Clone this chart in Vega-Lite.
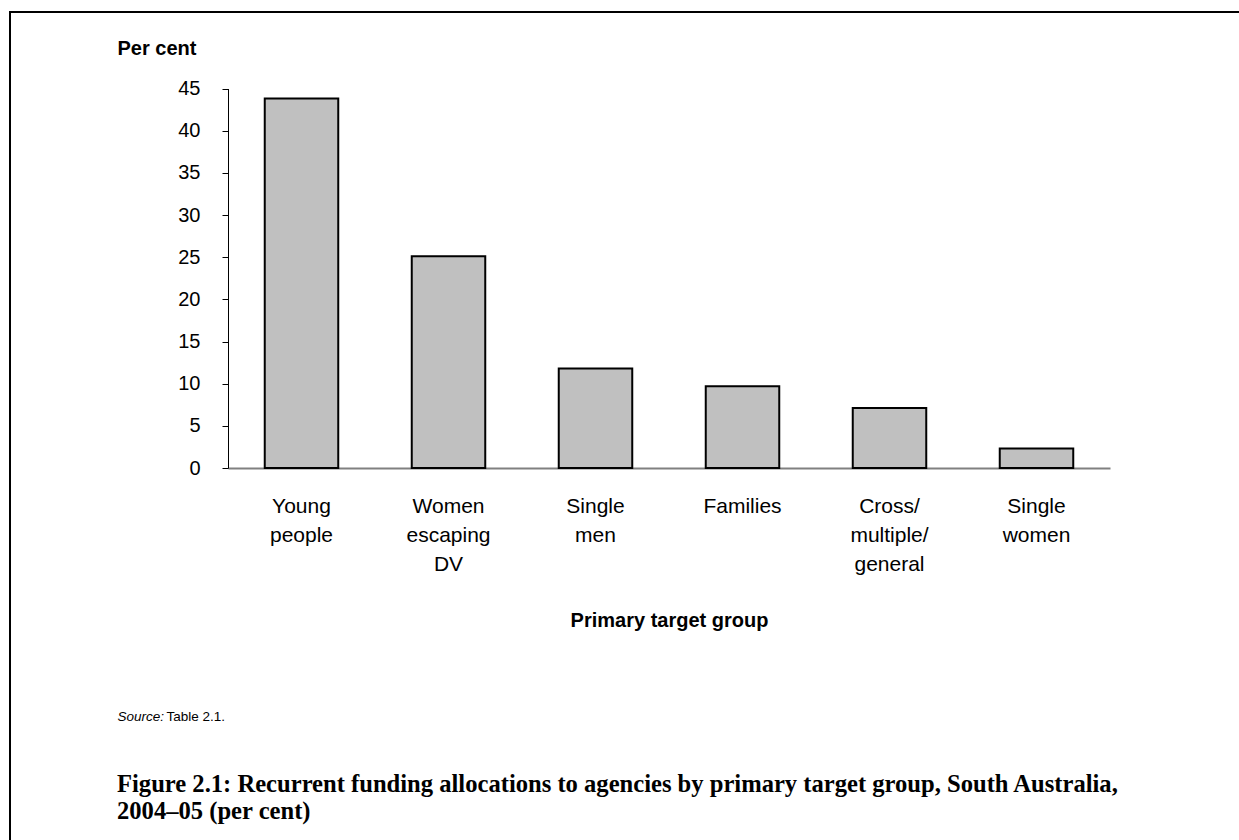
{
  "$schema": "https://vega.github.io/schema/vega-lite/v6.json",
  "width": 1232,
  "height": 831,
  "autosize": {"type": "none"},
  "padding": {"left": 10, "top": 12, "right": -3, "bottom": -3},
  "background": "white",
  "config": {
    "view": {"stroke": "black", "strokeWidth": 2},
    "font": "Liberation Sans"
  },
  "title": {
    "text": ["Figure 2.1: Recurrent funding allocations to agencies by primary target group, South Australia,", "2004–05 (per cent)"],
    "orient": "top",
    "anchor": "start",
    "frame": "group",
    "offset": 0,
    "baseline": "alphabetic",
    "dx": 107,
    "dy": 832,
    "font": "Liberation Serif",
    "fontSize": 24.6,
    "fontWeight": "bold",
    "lineHeight": 27,
    "color": "black"
  },
  "data": {
    "values": [
      {"group": "Young people", "value": 43.8},
      {"group": "Women escaping DV", "value": 25.1},
      {"group": "Single men", "value": 11.8},
      {"group": "Families", "value": 9.7},
      {"group": "Cross/ multiple/ general", "value": 7.1},
      {"group": "Single women", "value": 2.3}
    ]
  },
  "layer": [
    {
      "mark": {"type": "bar", "fill": "#c0c0c0", "stroke": "black", "strokeWidth": 2},
      "encoding": {
        "x": {
          "field": "group", "type": "nominal", "sort": null,
          "scale": {"range": [218, 1100], "paddingInner": 0.5, "paddingOuter": 0.25},
          "axis": {
            "orient": "bottom",
            "offset": -375,
            "domainColor": "#808080",
            "domainWidth": 2,
            "ticks": false,
            "tickSize": 0,
            "labelPadding": 27,
            "labelAngle": 0,
            "labelFontSize": 21,
            "labelLineHeight": 29,
            "labelColor": "black",
            "labelOverlap": false,
            "labelExpr": "split(datum.label, ' ')",
            "title": "Primary target group",
            "titleFontSize": 20,
            "titleFontWeight": "bold",
            "titleColor": "black",
            "titleBaseline": "alphabetic",
            "titleY": 158
          }
        },
        "y": {
          "field": "value", "type": "quantitative",
          "scale": {"domain": [0, 45], "range": [456, 76.5], "nice": false, "zero": true},
          "axis": {
            "orient": "left",
            "offset": -218,
            "grid": false,
            "values": [0, 5, 10, 15, 20, 25, 30, 35, 40, 45],
            "domainColor": "black",
            "domainWidth": 1,
            "tickColor": "black",
            "tickSize": 6,
            "labelPadding": 22,
            "labelFontSize": 20,
            "labelColor": "black",
            "labelOverlap": false,
            "title": "Per cent",
            "titleAngle": 0,
            "titleAlign": "left",
            "titleBaseline": "alphabetic",
            "titleX": -111,
            "titleY": 42,
            "titleFontSize": 20,
            "titleFontWeight": "bold",
            "titleColor": "black"
          }
        }
      }
    },
    {
      "mark": {"type": "bar", "opacity": 0},
      "encoding": {
        "x": {
          "field": "group", "type": "nominal", "sort": null,
          "axis": {
            "orient": "top",
            "offset": 0,
            "domain": false,
            "ticks": false,
            "labels": false,
            "title": "Source:",
            "titleFontStyle": "italic",
            "titleFontWeight": "normal",
            "titleFontSize": 13.5,
            "titleColor": "black",
            "titleAlign": "left",
            "titleBaseline": "alphabetic",
            "titleX": 107,
            "titleY": 708
          }
        },
        "y": {
          "field": "value", "type": "quantitative",
          "axis": {
            "orient": "right",
            "offset": 0,
            "grid": false,
            "domain": false,
            "ticks": false,
            "labels": false,
            "title": "Table 2.1.",
            "titleAngle": 0,
            "titleFontWeight": "normal",
            "titleFontSize": 13.5,
            "titleColor": "black",
            "titleAlign": "left",
            "titleBaseline": "alphabetic",
            "titleX": -1076,
            "titleY": 708
          }
        }
      }
    }
  ],
  "resolve": {
    "scale": {"x": "independent", "y": "independent"},
    "axis": {"x": "independent", "y": "independent"}
  }
}
